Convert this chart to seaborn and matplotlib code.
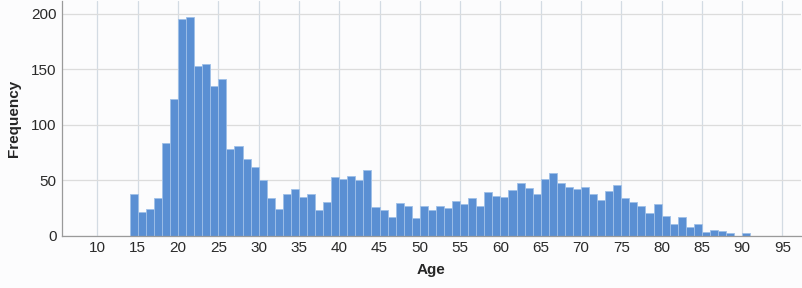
import matplotlib
matplotlib.use("Agg")
import matplotlib.pyplot as plt
import seaborn as sns
import pandas as pd

# ages 14..90, one bar per year
ages = list(range(14, 91))
counts = [37, 21, 24, 34, 83, 123, 195, 197, 153, 155,
          135, 141, 78, 81, 69, 62, 50, 34, 24, 37,
          42, 35, 37, 23, 30, 53, 51, 54, 50, 59,
          26, 23, 17, 29, 27, 16, 27, 23, 27, 25,
          31, 28, 34, 27, 39, 36, 35, 41, 47, 43,
          37, 51, 56, 47, 44, 42, 44, 37, 32, 40,
          46, 34, 30, 27, 20, 28, 18, 10, 17, 8,
          10, 3, 5, 4, 2, 0, 2]
x_ticks = list(range(10, 100, 5))
y_ticks = [0, 50, 100, 150, 200]

df = pd.DataFrame({"Age": ages, "n": counts})

sns.set_style("white")
plt.rcParams['font.family'] = ['Liberation Sans', 'DejaVu Sans']

fig = plt.figure(figsize=(8.02, 2.88), dpi=100)
fig.patch.set_facecolor("#fcfcfd")
ax = fig.add_axes([62 / 802, (288 - 235.5) / 288, 739 / 802, 235 / 288])
ax.set_facecolor("#fcfcfd")

sns.histplot(data=df, x="Age", weights="n", binwidth=1, binrange=(14, 91),
             ax=ax, color="#5a8fd3", alpha=1.0, edgecolor="#9fc0e8")
for p in ax.patches:
    p.set_linewidth(0.6)

ax.set_xlim(5.6, 97.3)
ax.set_ylim(0, 212)
ax.set_xticks(x_ticks)
ax.set_yticks(y_ticks)
ax.grid(True, color="#dcdcdc", linewidth=0.9)
ax.xaxis.grid(True, color="#d3dbe3", linewidth=0.9)
ax.set_axisbelow(True)
ax.tick_params(length=0, labelsize=11, colors="#2a2a2a", pad=4)

sns.despine(ax=ax)
for s in ["left", "bottom"]:
    ax.spines[s].set_color("#9a9a9a")
    ax.spines[s].set_linewidth(0.9)

ax.set_xlabel("Age", fontsize=11, fontweight="bold", labelpad=6)
ax.set_ylabel("Frequency", fontsize=11, fontweight="bold", labelpad=7)

fig.savefig("out.png", dpi=100, facecolor=fig.get_facecolor())
